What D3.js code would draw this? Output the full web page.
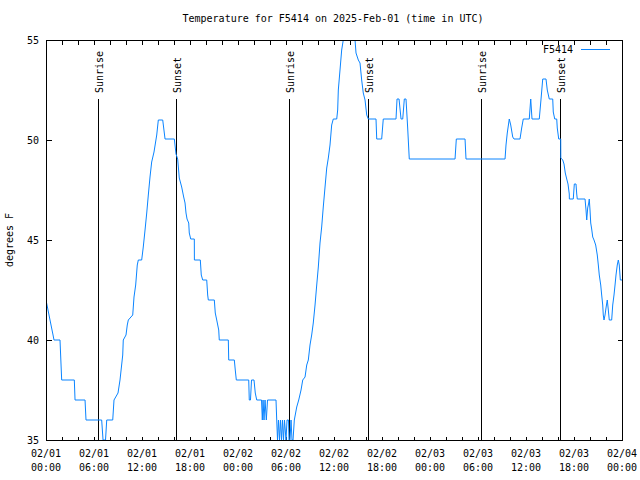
<!DOCTYPE html>
<html><head><meta charset="utf-8">
<script src="https://cdn.jsdelivr.net/npm/d3@7"></script>
<style>
body{margin:0;background:#fff;}
text{font-family:"DejaVu Sans Mono","Liberation Mono",monospace;font-size:10px;fill:#000;}
</style></head>
<body><svg id="c" width="640" height="480"></svg>
<script>
const title = "Temperature for F5414 on 2025-Feb-01 (time in UTC)";
const seriesName = "F5414";
const yLabel = "degrees F";
// hours since 2025-02-01 00:00 UTC
const hours = [0.00,0.25,0.50,0.88,1.00,1.75,1.96,3.54,3.63,4.88,5.00,6.96,7.13,7.44,7.59,8.34,8.50,9.00,9.25,9.59,9.66,10.00,10.16,10.29,10.84,11.00,11.21,11.41,11.54,11.96,12.16,12.38,12.59,12.79,13.00,13.21,13.50,13.84,14.04,14.59,14.88,16.04,16.25,16.46,16.66,16.96,17.21,17.38,17.50,17.63,17.84,17.91,18.09,18.54,18.55,19.29,19.41,19.59,20.09,20.21,20.29,21.04,21.16,21.34,21.59,21.66,22.79,22.84,23.54,23.66,23.79,25.34,25.41,25.56,25.69,26.00,26.16,26.34,26.94,27.04,27.13,27.25,27.38,27.54,27.69,28.75,28.84,28.94,29.06,29.19,29.31,29.44,29.56,29.69,29.81,30.00,30.13,30.31,30.38,30.50,30.63,30.75,30.88,31.04,31.34,31.59,31.88,32.09,32.38,32.59,32.79,33.00,33.21,33.41,33.63,33.84,34.04,34.25,34.46,34.66,34.88,35.09,35.29,35.50,35.71,35.91,36.34,36.46,36.54,36.75,36.96,37.16,37.50,38.00,38.38,38.63,38.75,39.04,39.25,39.46,39.66,39.88,40.09,40.29,41.25,41.34,41.96,42.16,43.75,43.88,44.13,44.38,44.59,44.79,45.00,45.21,45.41,51.13,51.29,52.38,52.50,57.38,57.50,57.66,57.91,58.09,58.34,58.50,59.25,59.46,59.66,60.41,60.59,60.75,61.66,61.88,62.09,62.50,62.66,62.91,63.34,63.41,63.59,63.84,63.91,64.09,64.34,64.35,64.59,64.75,64.91,65.09,65.25,65.41,65.42,65.91,66.04,66.25,66.34,66.41,67.38,67.50,67.59,67.71,67.84,67.91,68.00,68.09,68.21,68.34,68.50,68.71,68.91,69.04,69.16,69.34,69.46,69.59,69.66,69.75,69.88,70.00,70.16,70.29,70.41,70.71,70.84,71.00,71.13,71.25,71.41,71.54,71.66,71.79,72.00];
const temps = [42.0,41.5,41.0,40.25,40.0,40.0,38.0,38.0,37.0,37.0,36.0,36.0,35.0,35.0,36.0,36.0,37.0,37.35,38.0,39.25,40.0,40.25,40.75,41.0,41.25,42.15,42.75,43.75,44.0,44.0,44.65,45.5,46.35,47.25,48.15,48.9,49.4,50.25,51.0,51.0,50.05,50.05,49.3,49.05,48.1,47.65,47.15,46.85,46.35,46.05,45.85,45.35,45.05,45.05,44.0,44.0,43.25,43.0,43.0,42.25,42.0,42.0,41.35,41.0,40.5,40.0,40.0,39.0,39.0,38.5,38.0,38.0,37.0,37.0,38.0,38.0,37.35,37.0,37.0,36.0,37.0,36.0,37.0,36.0,37.0,37.0,36.0,35.0,36.0,35.0,36.0,35.0,36.0,35.0,36.0,35.0,36.0,36.0,35.0,35.0,36.0,35.0,35.0,36.0,36.65,37.0,37.5,38.0,38.15,38.75,39.0,39.75,40.25,40.85,41.75,42.75,43.65,44.85,45.65,46.65,47.65,48.6,49.1,49.75,50.75,51.05,51.05,51.5,52.5,53.5,54.5,55.0,56.0,56.25,55.5,55.0,54.35,54.0,53.85,53.0,52.35,52.0,51.25,51.05,51.05,50.05,50.05,51.05,51.05,52.05,52.05,51.05,51.05,52.05,52.05,50.6,49.05,49.05,50.05,50.05,49.05,49.05,49.75,50.35,51.05,50.75,50.15,50.05,50.05,50.6,51.05,51.05,52.05,51.05,51.05,52.05,53.05,53.05,52.5,52.05,52.05,51.4,51.05,51.05,50.6,50.05,50.05,49.1,49.0,48.8,48.35,48.05,47.8,47.3,47.05,47.05,47.8,47.8,47.3,47.05,47.05,46.5,46.0,46.6,46.85,47.05,46.5,45.85,45.55,45.15,45.0,44.75,44.25,43.75,43.25,42.75,42.25,41.75,41.25,41.0,41.25,41.6,42.0,41.5,41.0,41.0,41.75,42.25,42.75,43.25,43.75,44.0,43.75,43.0,43.0];
const sunHours = [6.53, 16.25, 30.41, 40.29, 54.39, 64.25];
const sunLabels = ["Sunrise","Sunset","Sunrise","Sunset","Sunrise","Sunset"];
const yTicks = [35,40,45,50,55];
const xStart = Date.UTC(2025,1,1,0,0), xEnd = Date.UTC(2025,1,4,0,0);

const svg = d3.select("#c");
const L=46, R=622, T=40, B=440;
const x = d3.scaleUtc().domain([new Date(xStart), new Date(xEnd)]).range([L,R]);
const y = d3.scaleLinear().domain([35,55]).range([B,T]);
const toDate = h => new Date(xStart + h*3600e3);
const data = hours.map((h,i)=>({t:toDate(h), v:temps[i]}));

svg.append("text").attr("x",333).attr("y",22).attr("text-anchor","middle").text(title);

svg.append("defs").append("clipPath").attr("id","clip").append("rect")
  .attr("x",L).attr("y",T).attr("width",R-L).attr("height",B-T);

// axes with inward ticks
const majorTicks = d3.utcHour.every(6).range(new Date(xStart), new Date(xEnd+1));
const minorTicks = d3.utcHour.every(2).range(new Date(xStart), new Date(xEnd+1));
const fmt1 = d3.utcFormat("%m/%d"), fmt2 = d3.utcFormat("%H:%M");
const g = svg.append("g").attr("shape-rendering","crispEdges");
const axBottom = d3.axisTop(x).tickValues(minorTicks).tickSize(4).tickFormat("");
g.append("g").attr("transform",`translate(0,${B+0.5})`).call(axBottom).call(s=>s.select(".domain").remove());
const axTop = d3.axisBottom(x).tickValues(minorTicks).tickSize(4).tickFormat("");
g.append("g").attr("transform",`translate(0,${T+0.5})`).call(axTop).call(s=>s.select(".domain").remove());
const axLeft = d3.axisRight(y).tickValues(yTicks).tickSize(5).tickFormat("");
g.append("g").attr("transform",`translate(${L+0.5},0)`).call(axLeft).call(s=>s.select(".domain").remove());
const axRight = d3.axisLeft(y).tickValues(yTicks).tickSize(5).tickFormat("");
g.append("g").attr("transform",`translate(${R+0.5},0)`).call(axRight).call(s=>s.select(".domain").remove());
g.selectAll("line").attr("stroke","#000");

// labels
const xl = svg.append("g");
majorTicks.forEach(d=>{
  const t = xl.append("text").attr("x",x(d)).attr("text-anchor","middle");
  t.append("tspan").attr("x",x(d)).attr("y",457).text(fmt1(d));
  t.append("tspan").attr("x",x(d)).attr("y",471).text(fmt2(d));
});
yTicks.forEach(v=>{
  svg.append("text").attr("x",39).attr("y",y(v)+4).attr("text-anchor","end").text(v);
});
svg.append("text").attr("transform","translate(13,240) rotate(-90)").attr("text-anchor","middle").text(yLabel);

// sun lines
sunHours.forEach((h,i)=>{
  const px = Math.round(x(toDate(h)))+0.5;
  svg.append("line").attr("x1",px).attr("x2",px).attr("y1",T+59).attr("y2",B).attr("stroke","#000").attr("stroke-width",1);
  svg.append("text").attr("transform",`translate(${px+4},${T+53}) rotate(-90)`).attr("text-anchor","start").text(sunLabels[i]);
});

// data line
const line = d3.line().x(d=>x(d.t)).y(d=>y(d.v));
svg.append("path").datum(data).attr("clip-path","url(#clip)").attr("fill","none")
  .attr("stroke","#0a84ff").attr("stroke-width",1).attr("d",line);

// border
svg.append("rect").attr("x",L+0.5).attr("y",T+0.5).attr("width",R-L).attr("height",B-T)
  .attr("fill","none").attr("stroke","#000").attr("shape-rendering","crispEdges");

// legend
svg.append("text").attr("x",573).attr("y",53).attr("text-anchor","end").text(seriesName);
svg.append("line").attr("x1",581).attr("x2",610).attr("y1",49.5).attr("y2",49.5).attr("stroke","#0a84ff");
</script></body></html>
